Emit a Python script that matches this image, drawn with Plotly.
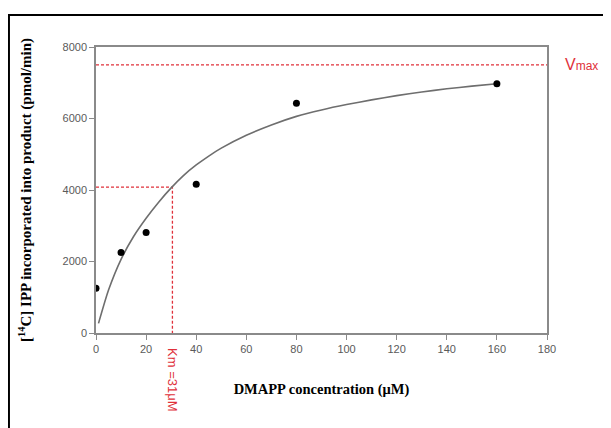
import plotly.graph_objects as go

# measured data points
conc = [0, 10, 20, 40, 80, 160]
rate = [1250, 2250, 2810, 4160, 6430, 6970]

# fitted curve
fit_x = [1, 5, 10, 15, 20, 25, 30, 35, 40, 45, 50, 60, 70, 80, 90, 100, 110, 120, 130, 140, 150, 160]
fit_y = [270, 1200, 2060, 2700, 3210, 3660, 4060, 4410, 4700, 4950, 5170, 5530, 5820, 6060,
         6240, 6390, 6520, 6640, 6740, 6830, 6905, 6970]

vmax = 7500
km_x = 30.5
km_y = 4080

x_ticks = [0, 20, 40, 60, 80, 100, 120, 140, 160, 180]
y_ticks = [0, 2000, 4000, 6000, 8000]

RED = "#e0303a"
GRAY = "#8a8a8a"

fig = go.Figure()

# reference lines
fig.add_trace(go.Scatter(x=[0, 180], y=[vmax, vmax], mode="lines",
                         line=dict(color=RED, width=1.3, dash="3px,2px"),
                         hoverinfo="skip", showlegend=False))
fig.add_trace(go.Scatter(x=[0, km_x, km_x], y=[km_y, km_y, 0], mode="lines",
                         line=dict(color=RED, width=1.3, dash="3px,2px"),
                         hoverinfo="skip", showlegend=False))

fig.add_trace(go.Scatter(x=fit_x, y=fit_y, mode="lines",
                         line=dict(color="#6e6e6e", width=1.6, shape="spline", smoothing=0.6),
                         showlegend=False))
fig.add_trace(go.Scatter(x=conc, y=rate, mode="markers", marker=dict(color="black", size=7),
                         showlegend=False))

# page body has an 8px margin, so the figure is offset by 8px
fig.update_layout(
    width=611, height=428,
    margin=dict(l=88, r=72, t=39, b=103),
    paper_bgcolor="white", plot_bgcolor="white",
    font=dict(family="Liberation Sans, Arial", color="#5a5a5a"),
    showlegend=False,
)
fig.update_xaxes(range=[0, 180], tickvals=x_ticks, ticktext=[str(v) for v in x_ticks],
                 automargin=False,
                 showgrid=False, zeroline=False, showline=True, linecolor=GRAY, linewidth=1.5,
                 mirror=True, ticks="outside", ticklen=5, tickcolor=GRAY, tickwidth=1.2,
                 tickfont=dict(size=11, color="#5a5a5a"),
                 title=dict(text="<b>DMAPP concentration (μM)</b>",
                            font=dict(family="Liberation Serif, Times New Roman", size=14.5, color="black"),
                            standoff=30))
fig.update_yaxes(range=[0, 8000], tickvals=y_ticks, ticktext=[str(v) for v in y_ticks],
                 automargin=False,
                 showgrid=False, zeroline=False, showline=True, linecolor=GRAY, linewidth=1.5,
                 mirror=True, ticks="outside", ticklen=5, tickcolor=GRAY, tickwidth=1.2,
                 tickfont=dict(size=11, color="#5a5a5a"),
                 title=dict(text="<b>[<sup>14</sup>C] IPP incorporated into product (pmol/min)</b>",
                            font=dict(family="Liberation Serif, Times New Roman", size=15, color="black"),
                            standoff=27))

# outer frame (top and left edges visible)
fig.add_shape(type="rect", xref="paper", yref="paper", x0=-0.193, x1=1.5, y0=-0.6, y1=1.112,
              line=dict(color="black", width=2), layer="above")

fig.add_annotation(x=1.0, xref="paper", y=vmax, yref="y", xanchor="left", xshift=16,
                   text="V<span style='font-size:12px'>max</span>", showarrow=False,
                   font=dict(size=16, color=RED, family="Liberation Sans, Arial"))
fig.add_annotation(x=km_x, xref="x", y=0, yref="y", yanchor="top", yshift=-13,
                   text="Km =31μM", textangle=90, showarrow=False,
                   font=dict(size=13, color=RED, family="Liberation Sans, Arial"))

fig.write_html("out.html")
